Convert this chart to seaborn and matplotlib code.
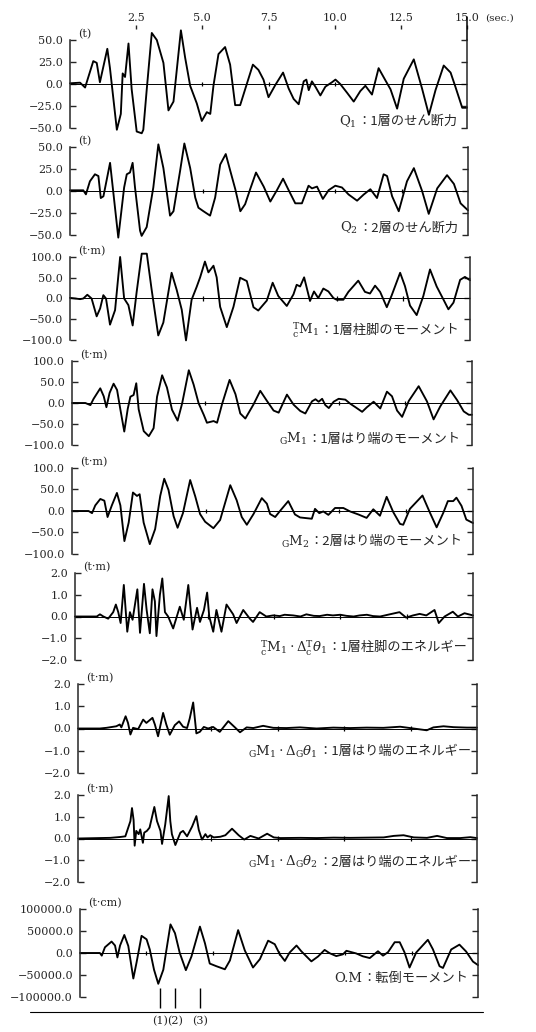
import matplotlib
matplotlib.use("Agg")
import matplotlib.pyplot as plt
import seaborn as sns

# ---------------- data ----------------
x_ticks = [2.5, 5.0, 7.5, 10.0, 12.5, 15.0]
x_tick_labels = ["2.5", "5.0", "7.5", "10.0", "12.5", "15.0"]

q1_time = [0, 0.38, 0.57, 0.88, 1.01, 1.13, 1.41, 1.51, 1.77, 1.92, 1.99, 2.08, 2.21, 2.33, 2.52,
           2.71, 2.77, 2.90, 3.09, 3.28, 3.53, 3.72, 3.91, 4.19, 4.35, 4.54, 4.79, 4.98, 5.17, 5.30,
           5.42, 5.61, 5.86, 6.05, 6.24, 6.43, 6.68, 6.91, 7.12, 7.31, 7.50, 7.76, 8.05, 8.26, 8.45,
           8.64, 8.83, 8.93, 9.02, 9.14, 9.27, 9.46, 9.65, 9.90, 10.03, 10.21, 10.47, 10.72, 10.97,
           11.16, 11.41, 11.66, 11.92, 12.11, 12.36, 12.61, 12.99, 13.30, 13.56, 13.81, 14.12, 14.38,
           14.56, 14.82, 15.0]
q1_vals = [0.8, 1.5, -4, 26, 24, 2, 40, 18, -52, -34, 12, 8, 46, -6, -54,
           -56, -52, -6, 58, 50, 24, -30, -20, 61, 30, -2, -22, -42, -32, -34,
           -2, 34, 42, 22, -24, -24, 0, 22, 16, 5, -15, -1, 13, -5, -17,
           -23, 3, 5, -7, 3, -3, -13, -3, 2, 5, 0, -10, -20, -8,
           -2, -12, 18, 4, -6, -28, 6, 28, -5, -35, -7, 21, 13,
           -3, -27, -27]

q2_time = [0, 0.50, 0.60, 0.75, 0.94, 1.07, 1.16, 1.26, 1.51, 1.82, 2.04, 2.14, 2.26, 2.36, 2.45,
           2.64, 2.70, 2.89, 3.14, 3.33, 3.52, 3.77, 3.90, 4.15, 4.31, 4.53, 4.72, 4.84, 5.03, 5.28,
           5.47, 5.66, 5.87, 6.04, 6.23, 6.42, 6.60, 6.79, 7.01, 7.30, 7.55, 7.80, 8.03, 8.24, 8.49,
           8.74, 8.99, 9.12, 9.31, 9.53, 9.75, 10.00, 10.25, 10.50, 10.82, 11.07, 11.32, 11.57, 11.82,
           11.95, 12.14, 12.39, 12.70, 12.96, 13.27, 13.52, 13.84, 14.21, 14.47, 14.72, 15.0]
q2_vals = [0.8, 0.8, -3.8, 11, 19, 17, -8, -6, 32, -53, 4, 19, 21, 32, 4,
           -45, -51, -41, 4, 53, 26, -28, -23, 23, 54, 26, -7.5, -19, -23, -28,
           -7.5, 30, 42, 23, 2, -23, -15, 2, 21, 5, -12, 1, 14, 1, -14,
           -14, 6, 3, 5, -9, 1, 6, 4, -4, -11, -4, 2, -8, 19,
           17, -6, -23, 11, 26, 0, -26, 3, 18, 8, -14, -22]

cm1_time = [0, 0.38, 0.50, 0.65, 0.81, 1.00, 1.13, 1.25, 1.35, 1.50, 1.69, 1.88, 2.03, 2.19, 2.35,
            2.50, 2.69, 2.88, 3.06, 3.31, 3.50, 3.81, 4.00, 4.19, 4.35, 4.56, 4.75, 4.88, 5.06, 5.19,
            5.38, 5.50, 5.63, 5.88, 6.13, 6.38, 6.63, 6.88, 7.06, 7.38, 7.60, 7.81, 8.13, 8.38, 8.50,
            8.63, 8.78, 8.88, 9.00, 9.15, 9.31, 9.50, 9.69, 9.88, 10.00, 10.25, 10.44, 10.81, 11.06,
            11.25, 11.44, 11.63, 11.88, 12.06, 12.38, 12.56, 12.75, 13.00, 13.25, 13.50, 13.75, 14.00,
            14.19, 14.38, 14.63, 14.81, 15.0]
cm1_vals = [1.5, -1.5, 0, 9, 0, -43, -24, 8, 0, -63, -28, 100, 0, -16, -65,
            16, 108, 108, 22, -89, -58, 62, 21, -27, -101, -3, 28, 51, 89, 63,
            79, 51, -20, -69, -20, 50, 42, -21, -29, -5, 38, 6, -18, 10, 33,
            29, 51, 25, -6, 17, 1, 24, 17, 1, -3, -3, 16, 43, 16,
            12, 31, 16, -21, 7, 62, 30, -17, -40, 6, 70, 29, -2,
            -26, -10, 45, 52, 44]

gm1_time = [0, 0.50, 0.69, 0.81, 1.06, 1.19, 1.29, 1.41, 1.56, 1.69, 1.81, 1.96, 2.09, 2.19, 2.31,
            2.41, 2.50, 2.69, 2.88, 3.06, 3.19, 3.38, 3.56, 3.75, 3.96, 4.13, 4.38, 4.56, 4.75, 4.94,
            5.06, 5.31, 5.44, 5.63, 5.91, 6.13, 6.31, 6.50, 6.81, 7.06, 7.31, 7.56, 7.75, 8.06, 8.31,
            8.56, 8.75, 9.00, 9.13, 9.25, 9.38, 9.50, 9.63, 9.81, 10.00, 10.25, 10.44, 10.63, 10.88,
            11.06, 11.31, 11.56, 11.81, 12.00, 12.19, 12.38, 12.63, 13.00, 13.31, 13.56, 13.81, 14.19,
            14.44, 14.69, 14.88, 15.0]
gm1_vals = [0, 0, -5, 10, 35, 16, -10, 24, 46, 31, -14, -68, -14, 15, 19,
            47, -15, -67, -79, -60, 15, 66, 37, -16, -42, -1, 78, 44, -1, -28,
            -47, -43, -47, -2, 55, 21, -25, -37, -3, 29, 5, -18, -23, 20, -4,
            -19, -25, 4, 9, 3, 10, -5, -12, 3, 10, 8, -2, -10, -21,
            -10, 3, -13, 27, 16, -18, -33, 5, 40, 4, -39, -8, 30,
            7, -20, -28, -28]

gm2_time = [0, 0.62, 0.75, 0.87, 1.06, 1.21, 1.33, 1.49, 1.68, 1.81, 1.96, 2.12, 2.28, 2.43, 2.53,
            2.68, 2.91, 3.11, 3.30, 3.45, 3.61, 3.80, 3.95, 4.15, 4.42, 4.61, 4.79, 4.98, 5.29, 5.54,
            5.92, 6.16, 6.35, 6.54, 6.79, 7.10, 7.29, 7.41, 7.60, 7.78, 8.09, 8.34, 8.53, 8.97, 9.09,
            9.25, 9.40, 9.59, 9.84, 10.15, 10.40, 10.71, 11.02, 11.27, 11.52, 11.77, 12.02, 12.27,
            12.39, 12.64, 13.11, 13.39, 13.64, 13.89, 14.06, 14.26, 14.38, 14.57, 14.75, 15.0]
gm2_vals = [0, 0, -5, 13, 28, 24, -14, 13, 42, 13, -70, -27, 43, 35, 39,
            -27, -77, -42, 35, 75, 49, -12, -39, -5, 72, 34, -7, -25, -40, -21,
            60, 25, -14, -32, -7, 30, 17, -7, -14, 0, 23, -8, -15, -18, 5,
            -5, -1, -9, 7, 7, -1, -8, -16, 4, -11, 33, -3, -30,
            -32, 5, 36, -4, -38, -4, 23, 23, 31, 12, -20, -28]

ec1_time = [0, 0.82, 0.94, 1.07, 1.25, 1.44, 1.54, 1.63, 1.72, 1.84, 1.97, 2.07, 2.17, 2.35, 2.45,
            2.60, 2.70, 2.82, 2.92, 3.01, 3.07, 3.20, 3.29, 3.39, 3.51, 3.70, 3.95, 4.10, 4.27, 4.43,
            4.60, 4.71, 4.86, 4.98, 5.06, 5.21, 5.33, 5.52, 5.71, 5.96, 6.09, 6.34, 6.59, 6.71, 6.96,
            7.21, 7.47, 7.72, 7.90, 8.22, 8.50, 8.72, 9.00, 9.22, 9.50, 9.72, 10.00, 10.23, 10.50,
            10.73, 11.00, 11.23, 11.50, 11.79, 12.23, 12.48, 12.74, 12.99, 13.24, 13.55, 13.71, 13.93,
            14.24, 14.43, 14.68, 15.0]
ec1_vals = [0, 0, 0.1, 0, -0.1, 0.2, 0.55, 0.2, -0.3, 1.45, -0.7, 0.2, -0.15, 1.25, -0.75,
            1.5, 0.3, -0.77, 1.25, 0.7, -0.9, 1.0, 1.75, 0.2, 0, -0.55, 0.45, -0.15, 1.45, -0.6,
            0.4, -0.25, 0.3, 1.1, 0, -0.7, 0.3, -0.7, 0.55, 0.1, -0.3, 0.3, -0.1, -0.25, 0.2,
            0, 0.05, 0.02, 0.08, 0.05, 0.0, 0.1, 0.03, 0.02, 0.08, 0.05, 0.08, 0.03, 0.0,
            0.05, 0.08, 0.02, 0.0, 0.08, 0.2, -0.05, 0.05, 0.12, 0.05, 0.3, -0.3, 0,
            0.22, 0.0, 0.15, 0.05]

eg1_time = [0, 0.82, 1.07, 1.44, 1.57, 1.63, 1.79, 1.88, 1.97, 2.07, 2.26, 2.45, 2.57, 2.80, 2.89,
            3.01, 3.20, 3.32, 3.45, 3.64, 3.80, 3.95, 4.10, 4.20, 4.33, 4.45, 4.58, 4.73, 4.89, 5.08,
            5.33, 5.65, 5.90, 6.09, 6.34, 6.59, 6.96, 7.34, 7.84, 8.34, 8.97, 9.60, 10.23, 10.85,
            11.48, 12.11, 12.61, 13.11, 13.36, 13.74, 14.12, 14.62, 15.0]
eg1_vals = [0, 0, 0.03, 0.1, 0.18, 0.05, 0.55, 0.25, -0.27, 0.03, -0.03, 0.4, 0.25, 0.48, 0.18,
            -0.35, 0.7, 0.18, -0.28, 0.15, 0.32, 0.08, 0.02, 0.45, 1.17, -0.22, -0.15, 0.07, 0, 0.07,
            -0.15, 0.33, 0.05, -0.17, 0.05, 0.02, 0.12, 0.03, 0.02, 0.05, 0, 0.04, 0.02, 0.04,
            0.03, 0.08, 0.0, -0.08, 0.05, 0.1, 0.06, 0.04, 0.04]

eg2_time = [0, 1.22, 1.59, 1.78, 1.97, 2.03, 2.09, 2.13, 2.19, 2.28, 2.34, 2.44, 2.49, 2.59, 2.69,
            2.87, 2.97, 3.10, 3.16, 3.28, 3.41, 3.47, 3.53, 3.66, 3.85, 3.95, 4.10, 4.29, 4.45, 4.54,
            4.66, 4.79, 4.87, 4.97, 5.10, 5.35, 5.54, 5.79, 6.04, 6.25, 6.48, 6.79, 7.11, 7.36, 7.61,
            8.36, 8.98, 9.61, 10.24, 10.86, 11.49, 11.87, 12.24, 12.62, 13.12, 13.50, 13.87, 14.37,
            14.75, 15.0]
eg2_vals = [0, 0.03, 0.07, 0.1, 0.8, 1.4, 0.85, -0.33, 0.35, 0.2, 0.42, -0.2, 0.27, 0.35, 0.5,
            1.45, 0.8, 0.35, -0.25, 0.65, 1.95, 0.8, 0.2, -0.3, 0.27, 0.35, 0.1, 0.55, 1.03, 0.4,
            -0.05, 0.2, 0.05, 0.15, 0.05, 0.08, 0.15, 0.45, 0.15, -0.05, 0.12, 0.0, 0.22, 0.05, 0.02,
            0.03, 0.02, 0.04, 0.03, 0.04, 0.05, 0.12, 0.15, 0.05, 0.03, 0.12, 0.02, 0.02,
            0.06, 0.02]

om_time = [0, 0.75, 0.82, 0.94, 1.19, 1.32, 1.41, 1.51, 1.67, 1.82, 2.01, 2.13, 2.32, 2.51, 2.63,
           2.79, 2.95, 3.14, 3.26, 3.41, 3.58, 3.76, 3.99, 4.20, 4.52, 4.71, 4.89, 5.14, 5.46, 5.65,
           5.96, 6.21, 6.52, 6.78, 7.09, 7.34, 7.53, 7.72, 7.90, 8.16, 8.34, 8.72, 8.97, 9.22, 9.41,
           9.66, 9.91, 10.04, 10.41, 10.66, 10.92, 11.23, 11.42, 11.61, 11.86, 12.05, 12.23, 12.42,
           12.67, 13.11, 13.30, 13.55, 13.68, 13.99, 14.30, 14.55, 14.81, 15.0]
om_vals = [0, 0, -6000, 13000, 26000, 17000, -10000, 17000, 41000, 16000, -58000, -22000, 39000,
           31000, 8000, -38000, -70000, -38000, 8000, 65000, 45000, 0, -39000, -8000, 60000, 22000,
           -24000, -30000, -37000, -17000, 52000, 6000, -33000, -14000, 28000, 20000, -3000, -18000,
           1000, 17000, 4000, -19000, -8000, 7000, -500, -7000, -3000, 5000, -1000, -7500, -11500,
           4000, -6000, 2000, 24500, 24500, 1500, -33000, 1000, 30000, 8500, -30000, -34000, 8000,
           19000, 3500, -19500, -27500]

ticks_q = [50, 25, 0, -25, -50]
labels_q = ["50.0", "25.0", "0.0", "\u221225.0", "\u221250.0"]
ticks_m = [100, 50, 0, -50, -100]
labels_m = ["100.0", "50.0", "0.0", "\u221250.0", "\u2212100.0"]
ticks_e = [2, 1, 0, -1, -2]
labels_e = ["2.0", "1.0", "0.0", "\u22121.0", "\u22122.0"]
ticks_om = [100000, 50000, 0, -50000, -100000]
labels_om = ["100000.0", "50000.0", "0.0", "\u221250000.0", "\u2212100000.0"]

units = ["(t)", "(t)", "(t\u00b7m)", "(t\u00b7m)", "(t\u00b7m)", "(t\u00b7m)", "(t\u00b7m)", "(t\u00b7m)", "(t\u00b7cm)"]
title_math = [r"$\mathrm{Q}_1$", r"$\mathrm{Q}_2$",
              r"${}^{\mathrm{T}}_{\mathrm{c}}\mathrm{M}_1$",
              r"${}_{\mathrm{G}}\mathrm{M}_1$", r"${}_{\mathrm{G}}\mathrm{M}_2$",
              r"${}^{\mathrm{T}}_{\mathrm{c}}\mathrm{M}_1\cdot\Delta{}^{\mathrm{T}}_{\mathrm{c}}\theta_1$",
              r"${}_{\mathrm{G}}\mathrm{M}_1\cdot\Delta_{\mathrm{G}}\theta_1$",
              r"${}_{\mathrm{G}}\mathrm{M}_1\cdot\Delta_{\mathrm{G}}\theta_2$",
              "O.M"]
title_jp = ["：1層のせん断力", "：2層のせん断力", "：1層柱脚のモーメント",
            "：1層はり端のモーメント", "：2層はり端のモーメント", "：1層柱脚のエネルギー",
            "：1層はり端のエネルギー", "：2層はり端のエネルギー", "：転倒モーメント"]

event_times = [3.0, 3.58, 4.52]
event_labels = ["(1)", "(2)", "(3)"]

# ---------------- style ----------------
sns.set_style("ticks")
plt.rcParams["font.family"] = ["DejaVu Serif"]
plt.rcParams["mathtext.fontset"] = "dejavuserif"
JP = ["Noto Sans CJK JP", "DejaVu Sans"]

W, H = 536, 1032
fig = plt.figure(figsize=(W / 100, H / 100), dpi=100)

# panel boxes in pixels: left, right, top, bottom (scan is slightly skewed)
boxes = [(70, 467, 40, 128), (70, 468, 147, 235), (70, 470, 257, 340),
         (72, 472, 361, 445), (72, 473, 468, 554), (75, 473, 573, 660),
         (78, 477, 684, 773), (78, 477, 795, 882), (80, 478, 909, 997)]
title_pos = [(0.975, 0.07), (0.975, 0.08), (0.972, 0.12), (0.972, 0.07), (0.975, 0.14),
             (0.985, 0.14), (0.985, 0.24), (0.985, 0.23), (0.975, 0.21)]
zero_marks = [[5.0, 7.5, 10.0], [5.0, 10.0, 12.5], [5.0, 10.0, 12.5], [5.0, 10.0, 12.5],
              [5.0, 10.0, 12.5], [5.0, 7.5, 10.0, 12.5], [5.0, 7.5, 10.0, 12.5],
              [5.0, 7.5, 10.0, 12.5], [2.5, 5.0, 7.5, 10.0, 12.5]]

series = [(q1_time, q1_vals, ticks_q, labels_q), (q2_time, q2_vals, ticks_q, labels_q),
          (cm1_time, cm1_vals, ticks_m, labels_m), (gm1_time, gm1_vals, ticks_m, labels_m),
          (gm2_time, gm2_vals, ticks_m, labels_m), (ec1_time, ec1_vals, ticks_e, labels_e),
          (eg1_time, eg1_vals, ticks_e, labels_e), (eg2_time, eg2_vals, ticks_e, labels_e),
          (om_time, om_vals, ticks_om, labels_om)]

axes = []
for i, (tt, vv, tks, lbs) in enumerate(series):
    l, r, tp, bt = boxes[i]
    ax = fig.add_axes([l / W, 1 - bt / H, (r - l) / W, (bt - tp) / H])
    axes.append(ax)
    sns.lineplot(x=tt, y=vv, ax=ax, color="black", linewidth=1.35,
                 estimator=None, sort=False)
    for ln in ax.lines:
        ln.set_clip_on(False)
        ln.set_solid_joinstyle("round")
        ln.set_solid_capstyle("round")
    ax.axhline(0, color="black", lw=0.7, zorder=1)
    lim = tks[0]
    ax.vlines(zero_marks[i], -0.055 * lim, 0.055 * lim, color="black", lw=0.9)
    ax.set_xlim(0, 15)
    ax.set_ylim(tks[-1], tks[0])
    ax.set_yticks(tks)
    ax.set_yticklabels(lbs)
    ax.set_xticks([])
    ax.set_xlabel("")
    ax.set_ylabel("")
    ax.tick_params(axis="y", direction="in", length=4, width=1.0, left=True, right=True,
                   labelleft=True, labelright=False, labelsize=8, pad=5)
    for s in ("top", "bottom"):
        ax.spines[s].set_visible(False)
    for s in ("left", "right"):
        ax.spines[s].set_linewidth(1.1)
    ax.patch.set_alpha(0)

    ax.text(0.02, 1.005, units[i], transform=ax.transAxes, ha="left", va="bottom", fontsize=8)
    tx, ty = title_pos[i]
    jp = ax.text(tx, ty, title_jp[i], transform=ax.transAxes, ha="right", va="center",
                 fontsize=9.5, family=JP)
    ax.annotate(title_math[i], xy=(0, 0.5), xycoords=jp, ha="right", va="center", fontsize=9.5)

# top time axis on the first panel
ax1 = axes[0]
ax1.xaxis.set_ticks_position("top")
ax1.set_xticks(x_ticks)
ax1.set_xticklabels(x_tick_labels)
ax1.spines["top"].set_position(("outward", 8))
ax1.tick_params(axis="x", direction="out", length=3, width=1.0, pad=1, labelsize=8)
ax1.text(1.045, 1.245, "(sec.)", transform=ax1.transAxes, ha="left", va="center", fontsize=7.5)
ax1.plot([1, 1], [1, 1.26], transform=ax1.transAxes, color="black", lw=1.1, clip_on=False)

# event markers under the last panel
ax9 = axes[-1]
ax9.vlines(event_times, -80000, -125000, color="black", lw=1.0, clip_on=False)
for t, lab in zip(event_times, event_labels):
    ax9.text(t, -142000, lab, ha="center", va="top", fontsize=8, clip_on=False)
ax9.plot([-0.126, 1.013], [-0.17, -0.17], transform=ax9.transAxes, color="black",
         lw=0.8, clip_on=False)

fig.savefig("out.png", dpi=100)
